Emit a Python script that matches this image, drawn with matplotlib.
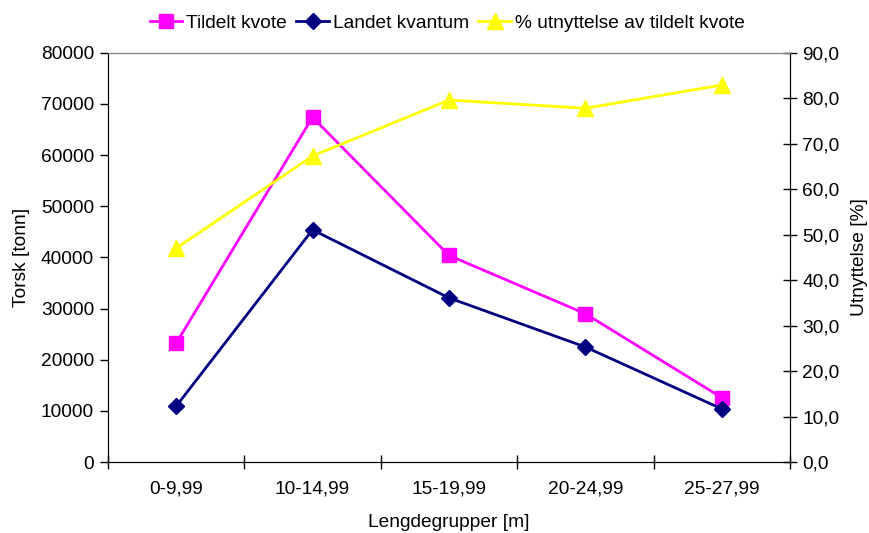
import numpy as np
import matplotlib.pyplot as plt

# Lengdegrupper og torskekvoter
grupper = ['0-9,99', '10-14,99', '15-19,99', '20-24,99', '25-27,99']
tildelt = [23200, 67400, 40400, 29000, 12600]
landet = [10900, 45400, 32100, 22500, 10400]
utnyttelse = [47.0, 67.3, 79.6, 77.8, 82.9]

plt.rcParams['font.family'] = ['Liberation Sans', 'DejaVu Sans']
plt.rcParams['font.size'] = 13.8

fig = plt.figure(figsize=(8.7, 5.33), dpi=100)
ax = fig.add_axes([0.124, 0.133, 0.784, 0.768])
ax2 = ax.twinx()

x = np.arange(len(grupper))

l1, = ax.plot(x, tildelt, color='#FF00FF', marker='s', markersize=10, lw=2, label='Tildelt kvote')
l2, = ax.plot(x, landet, color='#000080', marker='D', markersize=8, lw=2, label='Landet kvantum')
l3, = ax2.plot(x, utnyttelse, color='#FFFF00', marker='^', markersize=11, lw=2,
               label='% utnyttelse av tildelt kvote')

ax.set_xlim(-0.5, len(grupper) - 0.5)
ax.set_ylim(0, 80000)
ax2.set_ylim(0, 90)

ax.set_yticks(np.arange(0, 80001, 10000))
ax2.set_yticks(np.arange(0, 91, 10))
ax2.set_yticklabels([f'{v:.1f}'.replace('.', ',') for v in np.arange(0, 91, 10)])

# kategorinavn midt mellom tick-merkene
ax.set_xticks(np.arange(-0.5, len(grupper), 1.0))
ax.set_xticklabels([])
ax.set_xticks(x, minor=True)
ax.set_xticklabels(grupper, minor=True)
ax.tick_params(axis='x', which='minor', length=0, pad=13)
ax.tick_params(axis='x', which='major', direction='inout', length=10, width=1)
ax.tick_params(axis='y', direction='out', length=6, width=1, pad=4)
ax2.tick_params(axis='y', direction='inout', length=10, width=1, pad=4)

for a in (ax, ax2):
    a.spines['top'].set_color('#808080')
    a.spines['left'].set_color('black')
    a.spines['right'].set_color('black')
    a.spines['bottom'].set_color('black')

ax.set_xlabel('Lengdegrupper [m]', labelpad=12)
ax.set_ylabel('Torsk [tonn]', labelpad=8)
ax2.set_ylabel('Utnyttelse [%]', labelpad=8)

fig.legend(handles=[l1, l2, l3], loc='upper center', bbox_to_anchor=(0.514, 1.005), ncol=3,
           frameon=False, handlelength=1.7, handletextpad=0.2, columnspacing=0.5,
           fontsize=13.8)

fig.savefig('out.png', dpi=100)
